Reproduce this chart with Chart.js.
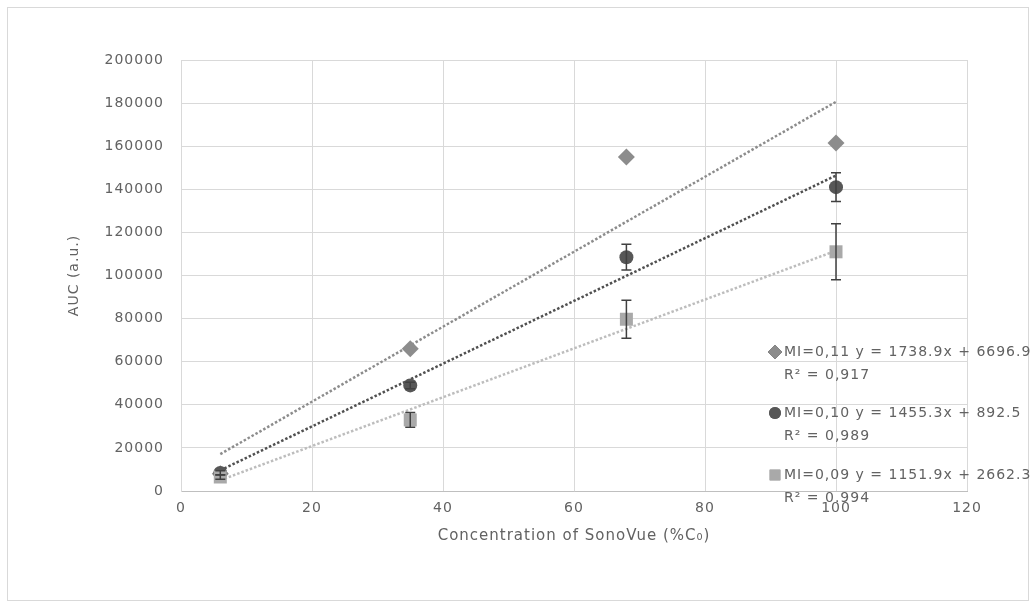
<!DOCTYPE html>
<html>
<head>
<meta charset="utf-8">
<script src="https://cdn.jsdelivr.net/npm/chart.js@4.4.0/dist/chart.umd.min.js"></script>
<style>
  html, body { margin: 0; padding: 0; background: #fff; }
  #wrap { width: 1036px; height: 608px; }
</style>
</head>
<body>
<div id="wrap"><canvas id="aucChart" width="1036" height="608"></canvas></div>
<script>
// concentration (%C0) on x, AUC on y
const concentrations = [6, 35, 68, 100];
const auc011 = [8000, 66000, 155000, 161500];
const auc010 = [8400, 49000, 108500, 141000];
const err010 = [1000, 1500, 6000, 6700];
const auc009 = [6500, 33000, 79700, 111000];
const err009 = [1000, 3400, 8800, 13000];

// trend line ends
const trendX = [6, 100];
const trend011 = [17100, 180600];
const trend010 = [9600, 146400];
const trend009 = [5000, 111500];

const legendLines = [
    ['MI=0,11 y = 1738.9x + 6696.9', 'R² = 0,917'],
    ['MI=0,10 y = 1455.3x + 892.5', 'R² = 0,989'],
    ['MI=0,09 y = 1151.9x + 2662.3', 'R² = 0.994']
];

const textColor = '#626262';
const fontFamily = '"DejaVu Sans", sans-serif';
const spacing = '1px';

const toPoints = (xs, ys) => xs.map((x, i) => ({ x: x, y: ys[i] }));

// error bars, frame and the overlapping legend
const extras = {
    id: 'extras',
    beforeLayout(chart) {
        chart.ctx.letterSpacing = spacing;
    },
    beforeDraw(chart) {
        const ctx = chart.ctx;
        ctx.letterSpacing = spacing;
        ctx.save();
        ctx.fillStyle = '#fff';
        ctx.fillRect(0, 0, chart.width, chart.height);
        ctx.strokeStyle = '#d9d9d9';
        ctx.lineWidth = 1;
        ctx.strokeRect(7.5, 7.5, chart.width - 15, chart.height - 15);
        ctx.restore();
    },
    afterDatasetsDraw(chart) {
        const ctx = chart.ctx;
        const xs = chart.scales.x, ys = chart.scales.y;
        ctx.save();
        ctx.strokeStyle = '#404040';
        ctx.lineWidth = 1.5;
        [[auc010, err010], [auc009, err009]].forEach(([vals, errs]) => {
            vals.forEach((v, i) => {
                const px = xs.getPixelForValue(concentrations[i]);
                const top = ys.getPixelForValue(v + errs[i]);
                const bot = ys.getPixelForValue(v - errs[i]);
                ctx.beginPath();
                ctx.moveTo(px, top); ctx.lineTo(px, bot);
                ctx.moveTo(px - 5, top); ctx.lineTo(px + 5, top);
                ctx.moveTo(px - 5, bot); ctx.lineTo(px + 5, bot);
                ctx.stroke();
            });
        });
        ctx.restore();
    },
    afterDraw(chart) {
        const ctx = chart.ctx;
        const left = 775, tops = [352, 413, 475], gap = 23;
        const radii = [7, 6, 7.5];
        ctx.save();
        ctx.font = '14px ' + fontFamily;
        ctx.textBaseline = 'middle';
        legendLines.forEach((lines, i) => {
            const ds = chart.data.datasets[i];
            Chart.helpers.drawPoint(ctx, {
                pointStyle: ds.pointStyle, radius: radii[i], borderWidth: 0
            }, left, tops[i]);
            ctx.fillStyle = ds.backgroundColor;
            ctx.fill();
            ctx.fillStyle = textColor;
            ctx.fillText(lines[0], left + 9, tops[i]);
            ctx.fillText(lines[1], left + 9, tops[i] + gap);
        });
        ctx.restore();
    }
};

new Chart(document.getElementById('aucChart').getContext('2d'), {
    type: 'scatter',
    data: {
        datasets: [
            { label: 'MI=0,11', data: toPoints(concentrations, auc011), pointStyle: 'rectRot', pointRadius: 8.5,
              backgroundColor: '#8c8c8c', borderColor: '#8c8c8c', borderWidth: 0, order: 3 },
            { label: 'MI=0,10', data: toPoints(concentrations, auc010), pointStyle: 'circle', pointRadius: 7,
              backgroundColor: '#575757', borderColor: '#575757', borderWidth: 0, order: 2 },
            { label: 'MI=0,09', data: toPoints(concentrations, auc009), pointStyle: 'rect', pointRadius: 9.2,
              backgroundColor: '#a9a9a9', borderColor: '#a9a9a9', borderWidth: 0, order: 1 },
            { label: 'trend 0,11', data: toPoints(trendX, trend011), showLine: true, pointRadius: 0,
              borderColor: '#8c8c8c', borderWidth: 2.5, borderDash: [2.5, 2], order: 6 },
            { label: 'trend 0,10', data: toPoints(trendX, trend010), showLine: true, pointRadius: 0,
              borderColor: '#505050', borderWidth: 2.5, borderDash: [2.5, 2], order: 5 },
            { label: 'trend 0,09', data: toPoints(trendX, trend009), showLine: true, pointRadius: 0,
              borderColor: '#bdbdbd', borderWidth: 2.5, borderDash: [2.5, 2], order: 4 }
        ]
    },
    options: {
        responsive: false,
        animation: false,
        layout: { padding: { left: 66, top: 60, right: 69, bottom: 63 } },
        plugins: {
            legend: { display: false },
            tooltip: { enabled: false }
        },
        scales: {
            x: {
                type: 'linear', min: 0, max: 120,
                ticks: { stepSize: 20, color: textColor, padding: 9, font: { family: fontFamily, size: 14 },
                         callback: v => String(v) },
                grid: { color: '#d9d9d9', drawTicks: false },
                border: { color: '#bfbfbf' },
                title: { display: true, text: 'Concentration of SonoVue (%C₀)', color: textColor, padding: 0,
                         font: { family: fontFamily, size: 15 } },
                afterFit(scale) { scale.height = 54; }
            },
            y: {
                min: 0, max: 200000,
                ticks: { stepSize: 20000, color: textColor, padding: 17, font: { family: fontFamily, size: 14 },
                         callback: v => String(v) },
                grid: { color: '#d9d9d9', drawTicks: false },
                border: { color: '#d9d9d9' },
                title: { display: true, text: 'AUC (a.u.)', color: textColor, padding: 0,
                         font: { family: fontFamily, size: 14 } },
                afterFit(scale) { scale.width = 115; }
            }
        }
    },
    plugins: [extras]
});
</script>
</body>
</html>
